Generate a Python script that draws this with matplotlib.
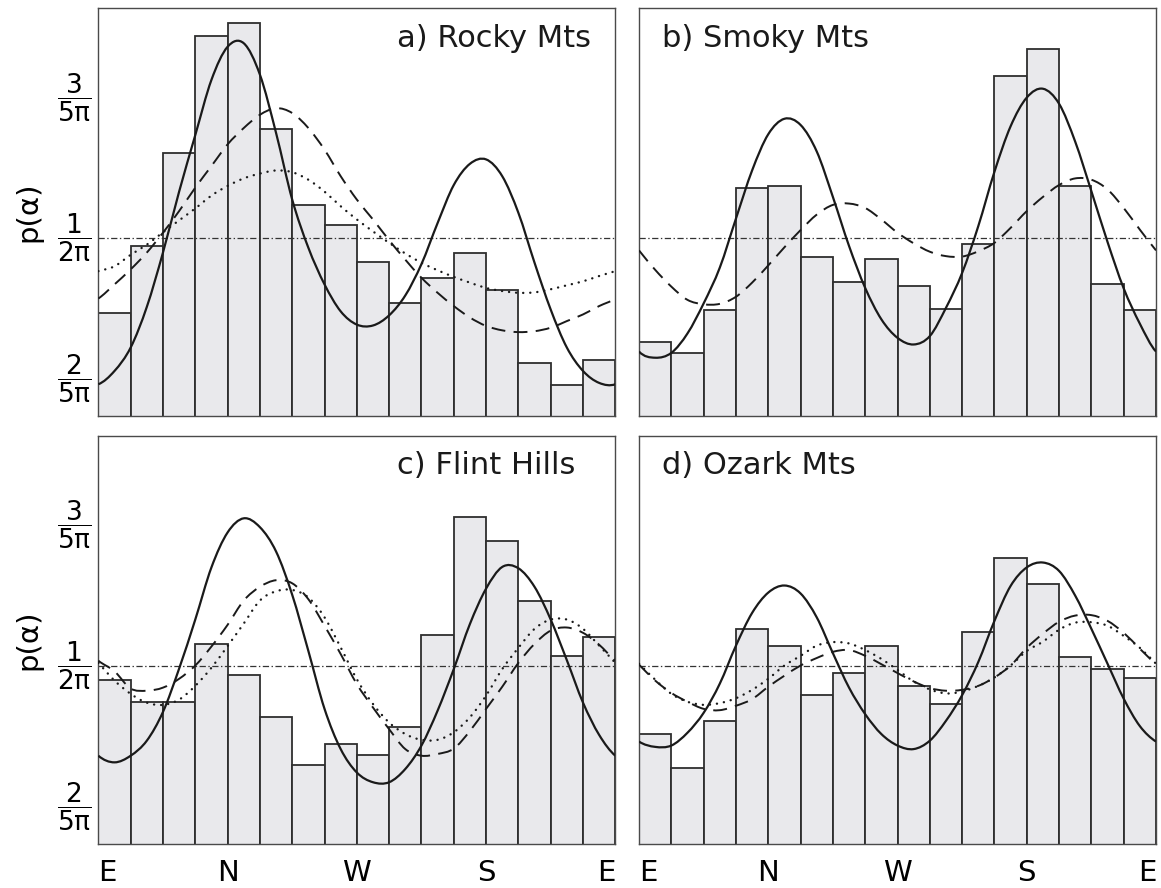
import numpy as np
import matplotlib
matplotlib.use("Agg")
import matplotlib.pyplot as plt
from matplotlib.path import Path
from matplotlib.patches import PathPatch

plt.rcParams["font.family"] = "DejaVu Sans"
plt.rcParams["mathtext.fontset"] = "dejavusans"
plt.rcParams["lines.scale_dashes"] = False

# azimuth alpha runs E -> N -> W -> S -> E (0 .. 2 pi), 16 histogram bins
n_bins = 16
bin_centres = (np.arange(n_bins) + 0.5) * 2 * np.pi / n_bins
# model curves every 1/32 of a turn
curve_angles = np.arange(33) * 2 * np.pi / 32
uniform = 1 / (2 * np.pi)

titles = ["a) Rocky Mts", "b) Smoky Mts", "c) Flint Hills", "d) Ozark Mts"]

hist_a = [0.1423, 0.1574, 0.1785, 0.2050, 0.2079, 0.1839, 0.1666, 0.1622,
          0.1537, 0.1444, 0.1501, 0.1558, 0.1474, 0.1310, 0.1259, 0.1315]
hist_b = [0.1357, 0.1331, 0.1430, 0.1705, 0.1709, 0.1548, 0.1493, 0.1544,
          0.1484, 0.1431, 0.1578, 0.1958, 0.2021, 0.1709, 0.1488, 0.1429]
hist_c = [0.1559, 0.1510, 0.1510, 0.1640, 0.1571, 0.1476, 0.1368, 0.1414,
          0.1390, 0.1452, 0.1661, 0.1927, 0.1874, 0.1739, 0.1613, 0.1656]
hist_d = [0.1438, 0.1361, 0.1467, 0.1674, 0.1637, 0.1525, 0.1575, 0.1637,
          0.1545, 0.1506, 0.1667, 0.1835, 0.1777, 0.1611, 0.1584, 0.1564]

solid_a = [0.1261, 0.1291, 0.1344, 0.1436, 0.1559, 0.1697, 0.1825, 0.1950,
           0.2025, 0.2033, 0.1962, 0.1830, 0.1679, 0.1570, 0.1487, 0.1426,
           0.1396, 0.1394, 0.1417, 0.1462, 0.1533, 0.1626, 0.1712, 0.1760,
           0.1770, 0.1732, 0.1649, 0.1536, 0.1430, 0.1344, 0.1291, 0.1264, 0.1261]
dashed_a = [0.1455, 0.1487, 0.1521, 0.1559, 0.1604, 0.1653, 0.1706, 0.1755,
            0.1804, 0.1841, 0.1871, 0.1886, 0.1875, 0.1841, 0.1792, 0.1732,
            0.1679, 0.1634, 0.1587, 0.1543, 0.1502, 0.1468, 0.1438, 0.1412,
            0.1393, 0.1383, 0.1379, 0.1381, 0.1389, 0.1404, 0.1419, 0.1438, 0.1455]
dotted_a = [0.1517, 0.1528, 0.1554, 0.1577, 0.1605, 0.1632, 0.1659, 0.1688,
            0.1710, 0.1727, 0.1738, 0.1745, 0.1741, 0.1724, 0.1697, 0.1664,
            0.1634, 0.1607, 0.1581, 0.1557, 0.1536, 0.1519, 0.1504, 0.1491,
            0.1479, 0.1472, 0.1468, 0.1469, 0.1476, 0.1485, 0.1494, 0.1506, 0.1517]

solid_b = [0.1335, 0.1321, 0.1332, 0.1376, 0.1444, 0.1525, 0.1636, 0.1745,
           0.1827, 0.1862, 0.1848, 0.1788, 0.1685, 0.1574, 0.1479, 0.1408,
           0.1366, 0.1351, 0.1370, 0.1434, 0.1513, 0.1619, 0.1742, 0.1845,
           0.1910, 0.1930, 0.1896, 0.1810, 0.1698, 0.1583, 0.1478, 0.1398, 0.1335]
dashed_b = [0.1564, 0.1520, 0.1482, 0.1452, 0.1442, 0.1443, 0.1459, 0.1491,
            0.1530, 0.1571, 0.1610, 0.1645, 0.1667, 0.1670, 0.1660, 0.1634,
            0.1604, 0.1580, 0.1561, 0.1551, 0.1550, 0.1562, 0.1581, 0.1615,
            0.1653, 0.1685, 0.1712, 0.1727, 0.1724, 0.1702, 0.1660, 0.1611, 0.1564]

solid_c = [0.1388, 0.1373, 0.1388, 0.1422, 0.1487, 0.1585, 0.1696, 0.1814,
           0.1893, 0.1925, 0.1905, 0.1850, 0.1752, 0.1625, 0.1494, 0.1403,
           0.1350, 0.1328, 0.1328, 0.1358, 0.1411, 0.1490, 0.1584, 0.1686,
           0.1766, 0.1815, 0.1812, 0.1770, 0.1696, 0.1604, 0.1508, 0.1435, 0.1388]
dashed_c = [0.1603, 0.1579, 0.1540, 0.1535, 0.1542, 0.1562, 0.1592, 0.1635,
            0.1684, 0.1739, 0.1770, 0.1785, 0.1778, 0.1742, 0.1682, 0.1618,
            0.1550, 0.1497, 0.1448, 0.1403, 0.1388, 0.1392, 0.1404, 0.1444,
            0.1494, 0.1544, 0.1598, 0.1641, 0.1671, 0.1678, 0.1666, 0.1639, 0.1603]
dotted_c = [0.1598, 0.1558, 0.1528, 0.1508, 0.1503, 0.1515, 0.1546, 0.1587,
            0.1636, 0.1687, 0.1739, 0.1760, 0.1763, 0.1746, 0.1701, 0.1633,
            0.1561, 0.1505, 0.1463, 0.1437, 0.1424, 0.1424, 0.1441, 0.1475,
            0.1524, 0.1584, 0.1632, 0.1675, 0.1696, 0.1696, 0.1675, 0.1637, 0.1598]

solid_d = [0.1420, 0.1408, 0.1411, 0.1440, 0.1485, 0.1551, 0.1637, 0.1711,
           0.1757, 0.1773, 0.1755, 0.1701, 0.1620, 0.1542, 0.1482, 0.1437,
           0.1411, 0.1403, 0.1422, 0.1467, 0.1525, 0.1600, 0.1693, 0.1772,
           0.1814, 0.1825, 0.1806, 0.1750, 0.1675, 0.1596, 0.1517, 0.1455, 0.1420]
dashed_d = [0.1594, 0.1558, 0.1530, 0.1510, 0.1494, 0.1491, 0.1501, 0.1516,
            0.1544, 0.1569, 0.1592, 0.1609, 0.1623, 0.1627, 0.1614, 0.1595,
            0.1575, 0.1556, 0.1541, 0.1535, 0.1537, 0.1546, 0.1565, 0.1592,
            0.1632, 0.1664, 0.1691, 0.1705, 0.1706, 0.1693, 0.1666, 0.1630, 0.1594]
dotted_d = [0.1596, 0.1560, 0.1528, 0.1510, 0.1503, 0.1507, 0.1518, 0.1537,
            0.1562, 0.1592, 0.1614, 0.1637, 0.1645, 0.1642, 0.1627, 0.1607,
            0.1582, 0.1556, 0.1538, 0.1529, 0.1533, 0.1546, 0.1565, 0.1592,
            0.1625, 0.1646, 0.1673, 0.1689, 0.1690, 0.1682, 0.1659, 0.1632, 0.1596]

hists = [hist_a, hist_b, hist_c, hist_d]
solids = [solid_a, solid_b, solid_c, solid_d]
dasheds = [dashed_a, dashed_b, dashed_c, dashed_d]
dotteds = [dotted_a, None, dotted_c, dotted_d]

ytick_vals = [2 / (5 * np.pi), 1 / (2 * np.pi), 3 / (5 * np.pi)]
ytick_labels = [r"$\dfrac{\mathregular{2}}{\mathregular{5π}}$",
                r"$\dfrac{\mathregular{1}}{\mathregular{2π}}$",
                r"$\dfrac{\mathregular{3}}{\mathregular{5π}}$"]
xtick_vals = [0, np.pi / 2, np.pi, 3 * np.pi / 2, 2 * np.pi]
xtick_labels = ["E", "N", "W", "S", "E"]


def smooth_curve(ax, x, y, **kw):
    # draw the read points as a smooth (Catmull-Rom) bezier path, periodic in alpha
    pts = np.column_stack([x, y])
    n = len(pts)
    period = np.array([2 * np.pi, 0.0])
    ext = np.vstack([pts[-2] - period, pts, pts[1] + period])
    verts = [pts[0]]
    for i in range(1, n):
        p0, p1, p2, p3 = ext[i - 1], ext[i], ext[i + 1], ext[i + 2]
        verts += [p1 + (p2 - p0) / 6, p2 - (p3 - p1) / 6, p2]
    codes = [Path.MOVETO] + [Path.CURVE4] * (3 * (n - 1))
    ax.add_patch(PathPatch(Path(verts, codes), fill=False, **kw))


fig = plt.figure(figsize=(11.61, 8.88), dpi=100)
rects = [[0.0847, 0.5315, 0.4453, 0.4591], [0.5504, 0.5315, 0.4453, 0.4591],
         [0.0847, 0.0499, 0.4453, 0.4595], [0.5504, 0.0499, 0.4453, 0.4595]]
title_x = [0.578, 0.044, 0.578, 0.044]

for i in range(4):
    ax = fig.add_axes(rects[i])
    ax.bar(bin_centres, hists[i], width=2 * np.pi / n_bins, color="#e9e9ec",
           edgecolor="#2e2e2e", linewidth=1.3, zorder=1)
    ax.axhline(uniform, color="#333333", linewidth=0.9,
               dashes=(4.5, 1.8, 1.0, 1.8), zorder=2)
    smooth_curve(ax, curve_angles, solids[i], edgecolor="#1a1a1a",
                 linewidth=1.6, zorder=4)
    smooth_curve(ax, curve_angles, dasheds[i], edgecolor="#1a1a1a",
                 linewidth=1.4, linestyle=(0, (10.0, 6.0)), zorder=3)
    if dotteds[i] is not None:
        smooth_curve(ax, curve_angles, dotteds[i], edgecolor="#1a1a1a",
                     linewidth=1.7, linestyle=(0, (0.1, 5.0)),
                     capstyle="round", zorder=3)

    ax.set_xlim(0, 2 * np.pi)
    ax.set_ylim(0.1189, 0.2112)
    for sp in ax.spines.values():
        sp.set_color("#4a4a4a")
        sp.set_linewidth(1.0)

    ax.set_yticks(ytick_vals)
    ax.set_xticks(xtick_vals)
    ax.tick_params(length=0)
    if i % 2 == 0:
        ax.set_yticklabels(ytick_labels, fontsize=19, va="center")
        ax.tick_params(axis="y", pad=5)
        ax.set_ylabel("p(α)", fontsize=21, labelpad=10)
    else:
        ax.set_yticklabels([])
    if i >= 2:
        ax.set_xticklabels(xtick_labels, fontsize=21)
        ax.tick_params(axis="x", pad=11)
        labs = ax.get_xticklabels()
        labs[0].set_horizontalalignment("left")
        labs[-1].set_horizontalalignment("right")
    else:
        ax.set_xticklabels([])

    ax.text(title_x[i], 0.905, titles[i], transform=ax.transAxes,
            fontsize=22, ha="left", va="baseline", color="#1a1a1a")

fig.savefig("out.png", dpi=100)
